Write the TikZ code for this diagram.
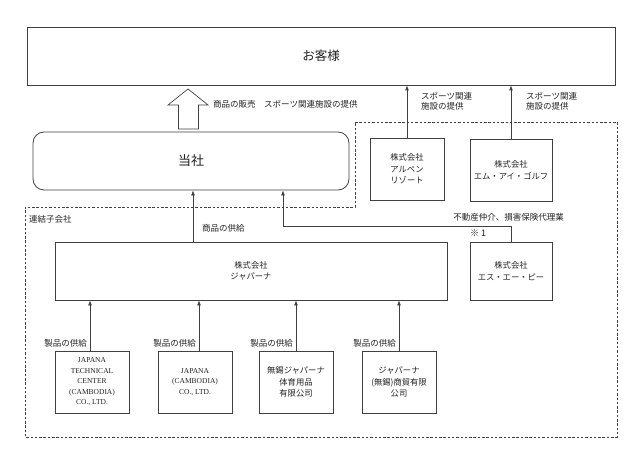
\documentclass[tikz,border=0pt]{standalone}
\usepackage{fontspec}
\setmainfont{Noto Sans CJK JP}
\newfontfamily\latn{Liberation Serif}
\usetikzlibrary{arrows.meta}
\definecolor{linec}{HTML}{404040}
\definecolor{txtc}{HTML}{222222}
\tikzset{
  box/.style={draw=linec, line width=0.8pt, fill=white, inner sep=0pt, align=center, text=txtc,
              font=\fontsize{8.3}{11.5}\selectfont},
  lbl/.style={inner sep=0pt, text=txtc, font=\fontsize{8.5}{10}\selectfont, align=left},
  arr/.style={draw=linec, line width=0.8pt, -{Latex[length=5pt,width=4pt]}},
  dashline/.style={draw=linec, line width=0.7pt, dash pattern=on 2.5pt off 1.8pt}
}
\begin{document}
\begin{tikzpicture}[x=1pt,y=-1pt]
\useasboundingbox (0,0) rectangle (631,449);

% dashed region
\draw[dashline] (355,122) -- (617,122) -- (617,437) -- (25,437) -- (25,207) -- (355,207) -- cycle;

% top
\node[box, minimum width=588pt, minimum height=58pt, font=\fontsize{12.5}{14}\selectfont] (kyaku) at (321,56) {お客様};
\node[box, rounded corners=11pt, minimum width=316pt, minimum height=58pt, font=\fontsize{13}{14}\selectfont] (tosha) at (191,161) {当社};

% big hollow arrow
\draw[linec, line width=0.7pt, fill=white] (188,89) -- (208,105) -- (198.5,105) -- (198.5,129) -- (178.5,129) -- (178.5,105) -- (168,105) -- cycle;
\node[lbl, anchor=west] (lblsale) at (213,104) {商品の販売　スポーツ関連施設の提供};

% right boxes
\node[box, minimum width=74pt, minimum height=62pt] (alpen) at (407,169) {株式会社\\アルペン\\リゾート};
\node[box, minimum width=82pt, minimum height=62pt] (mig) at (511,170) {株式会社\\エム・アイ・ゴルフ};
\node[box, minimum width=82pt, minimum height=58pt] (sap) at (511,271) {株式会社\\エス・エー・ピー};

\draw[arr] (alpen.north) -- (alpen.north |- kyaku.south);
\draw[arr] (mig.north) -- (mig.north |- kyaku.south);
\node[lbl, anchor=north west] (lbla) at (421,92) {スポーツ関連\\施設の提供};
\node[lbl, anchor=north west] (lblb) at (526,92) {スポーツ関連\\施設の提供};

% subsidiaries
\node[lbl, anchor=west] (renketsu) at (29,219) {連結子会社};
\node[box, minimum width=392pt, minimum height=58pt] (japana) at (251,271) {株式会社\\ジャパーナ};

\coordinate (tx1) at (193,0);
\draw[arr] (tx1 |- japana.north) -- (tx1 |- tosha.south);
\node[lbl, anchor=west] (lblkyo) at (202,228) {商品の供給};

\coordinate (tx2) at (283,226);
\draw[arr] (sap.north) |- (tx2) -- (tx2 |- tosha.south);
\node[lbl, anchor=east] (lblfudo) at (564,217) {不動産仲介、損害保険代理業};
\node[lbl, anchor=west, font=\fontsize{9}{10}\selectfont] (kome) at (470,233) {※ 1};

% bottom boxes
\node[box, minimum width=74pt, minimum height=62pt, font=\latn\fontsize{7.5}{10.5}\selectfont] (b1) at (92,382) {JAPANA\\TECHNICAL\\CENTER\\(CAMBODIA)\\CO., LTD.};
\node[box, minimum width=74pt, minimum height=62pt, font=\latn\fontsize{7.5}{10.5}\selectfont] (b2) at (195,382) {JAPANA\\(CAMBODIA)\\CO., LTD.};
\node[box, minimum width=74pt, minimum height=62pt] (b3) at (296,382) {無錫ジャパーナ\\体育用品\\有限公司};
\node[box, minimum width=74pt, minimum height=62pt] (b4) at (399,382) {ジャパーナ\\(無錫)商貿有限\\公司};

\foreach \b/\x in {b1/90,b2/199,b3/296,b4/399}{
  \coordinate (c\b) at (\x,0);
  \draw[arr] (c\b |- \b.north) -- (c\b |- japana.south);
  \node[lbl, anchor=east] at ([xshift=-3pt]c\b |- 0,343) {製品の供給};
}
\end{tikzpicture}
\end{document}
